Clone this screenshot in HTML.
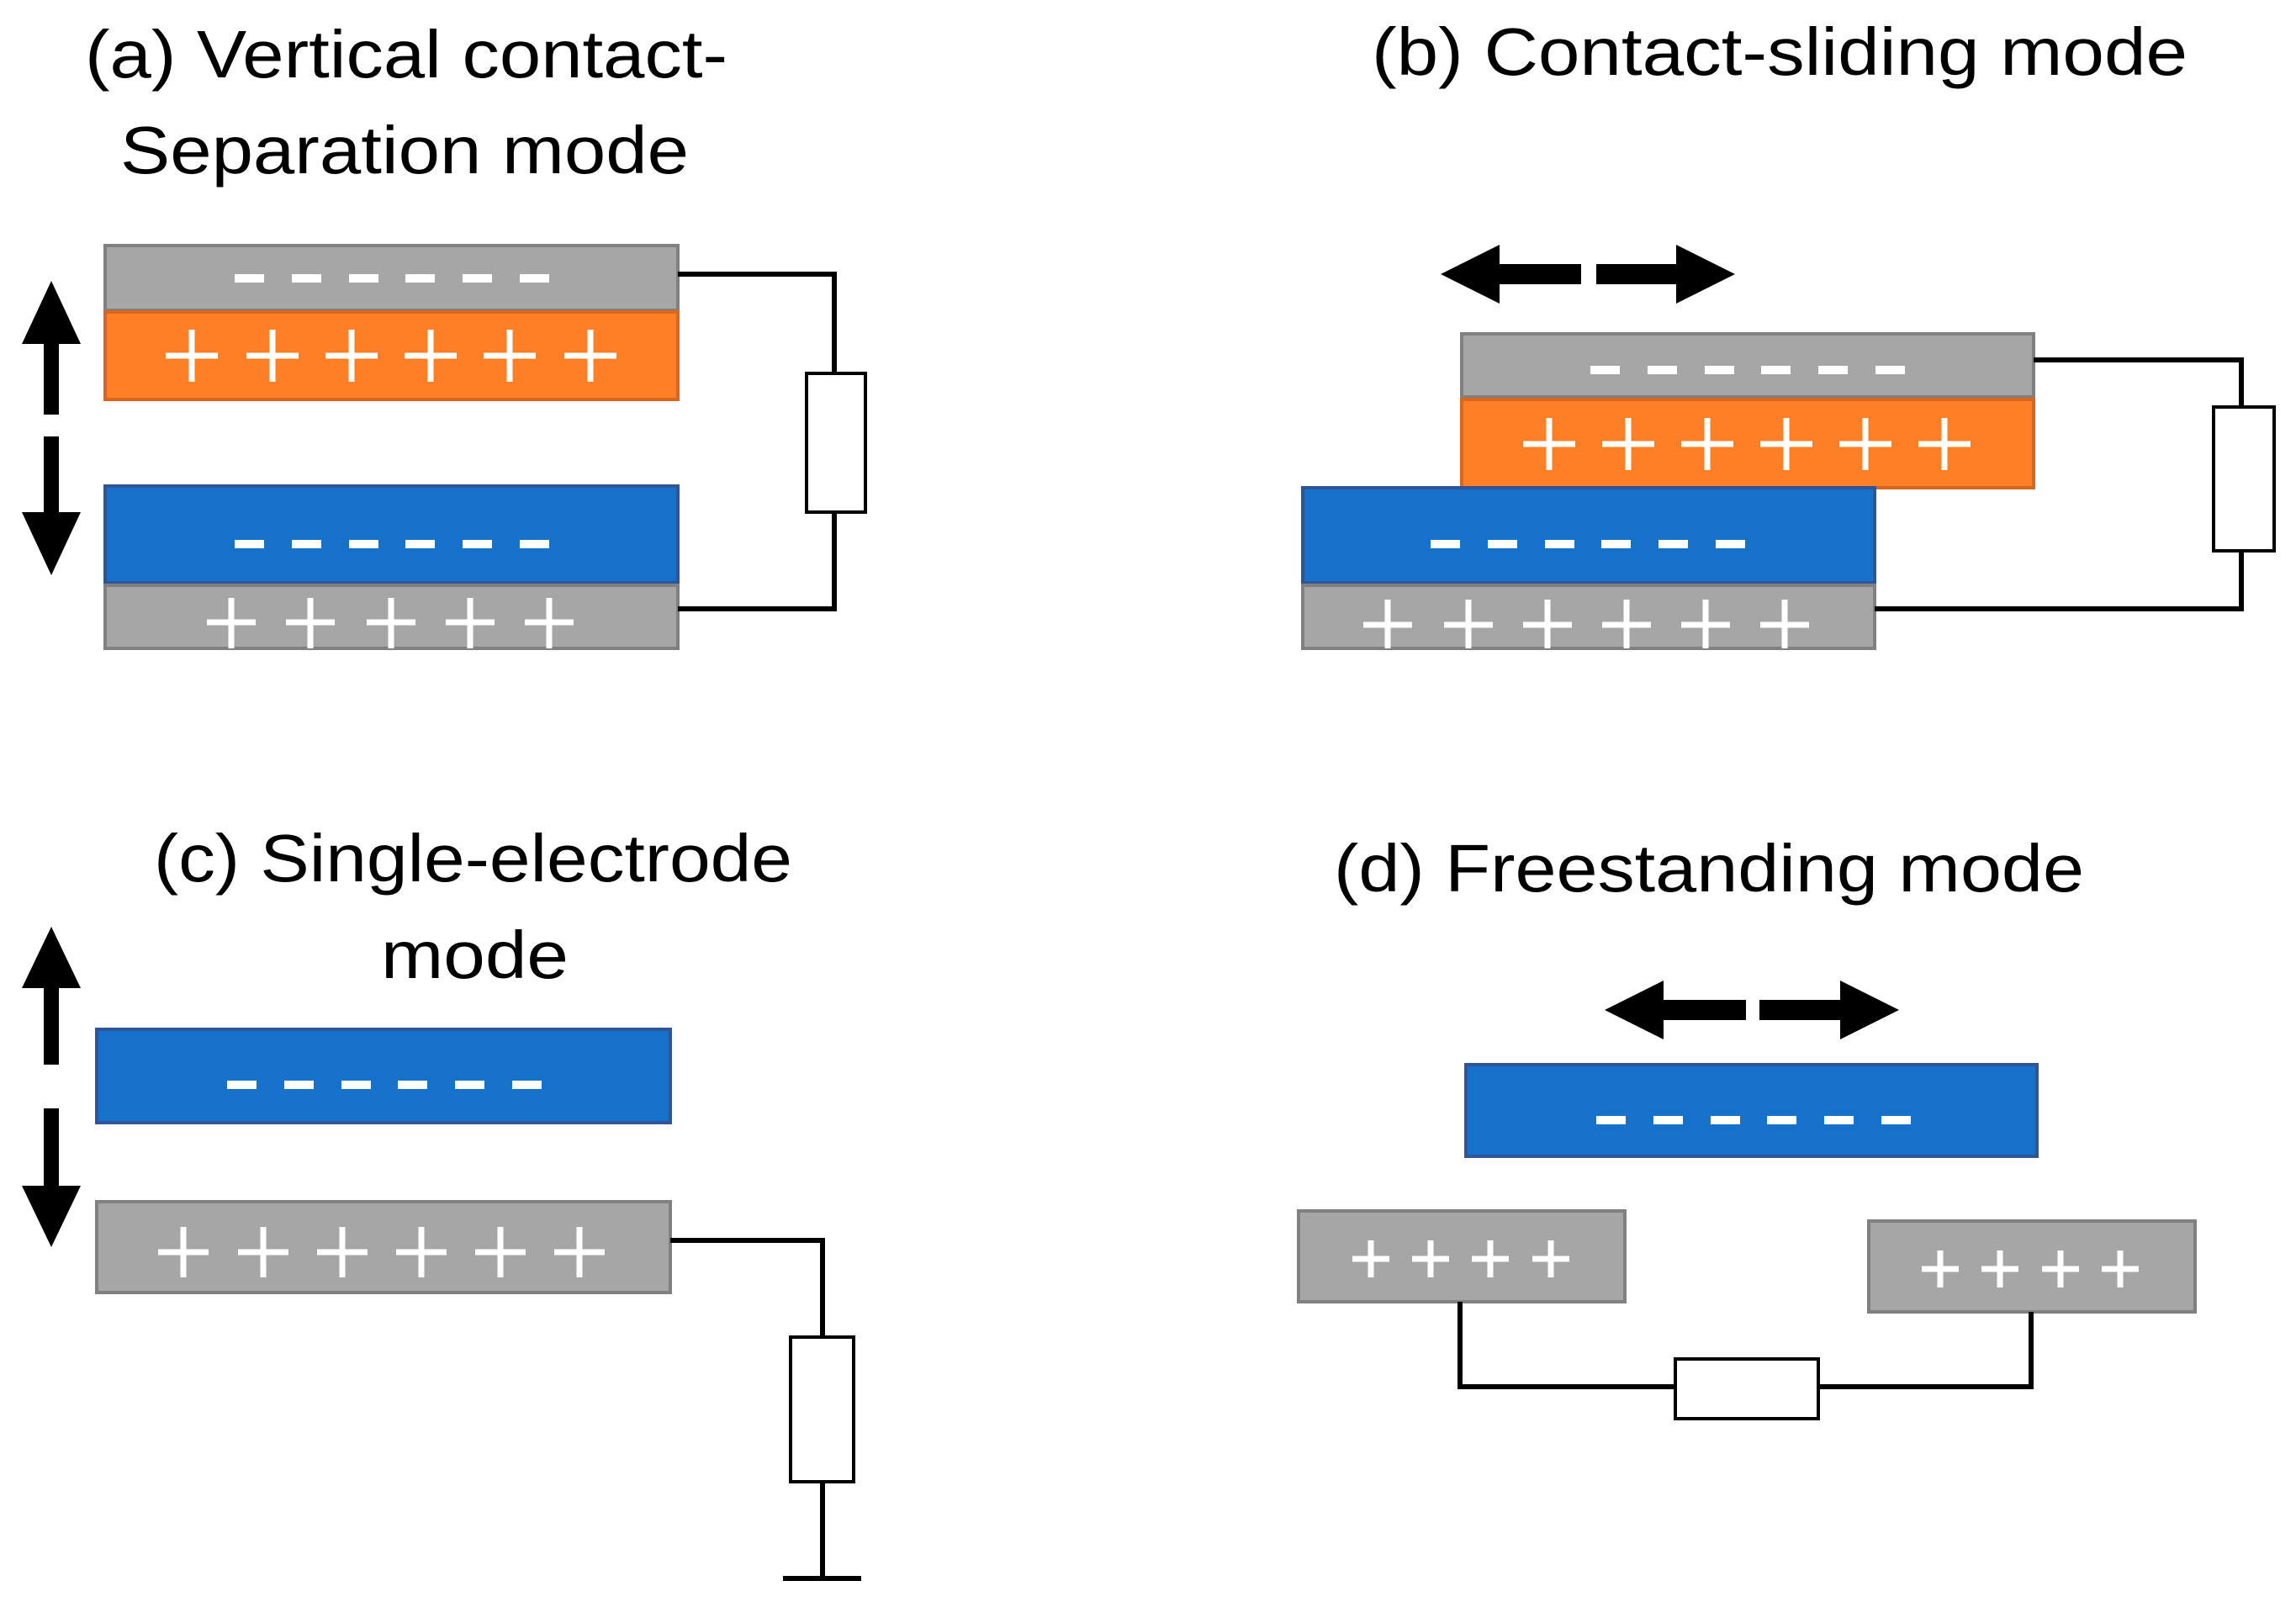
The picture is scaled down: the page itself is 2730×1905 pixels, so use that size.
<!DOCTYPE html>
<html><head><meta charset="utf-8"><style>
html,body{margin:0;padding:0;background:#fff;}
svg{display:block;}
text{font-family:"Liberation Sans","DejaVu Sans",sans-serif;fill:#000;}
</style></head><body>
<svg width="2730" height="1905" viewBox="0 0 2730 1905" xmlns="http://www.w3.org/2000/svg">
<g font-size="80">
<text x="101" y="92" textLength="764" lengthAdjust="spacingAndGlyphs">(a) Vertical contact-</text>
<text x="143" y="206" textLength="676" lengthAdjust="spacingAndGlyphs">Separation mode</text>
<text x="1631" y="89" textLength="970" lengthAdjust="spacingAndGlyphs">(b) Contact-sliding mode</text>
<text x="183" y="1048" textLength="759" lengthAdjust="spacingAndGlyphs">(c) Single-electrode</text>
<text x="453" y="1163" textLength="223" lengthAdjust="spacingAndGlyphs">mode</text>
<text x="1586" y="1060" textLength="892" lengthAdjust="spacingAndGlyphs">(d) Freestanding mode</text>
</g>
<g stroke-width="4">
<!-- a -->
<rect x="125" y="292" width="681" height="77" fill="#a6a6a6" stroke="#808080"/>
<rect x="125" y="371" width="681" height="104" fill="#ff7f27" stroke="#d9661f"/>
<rect x="125" y="578" width="681" height="115" fill="#1571c9" stroke="#2f5597"/>
<rect x="125" y="696" width="681" height="75" fill="#a6a6a6" stroke="#808080"/>
<!-- b -->
<rect x="1738" y="397" width="680" height="75" fill="#a6a6a6" stroke="#808080"/>
<rect x="1738" y="475" width="680" height="105" fill="#ff7f27" stroke="#d9661f"/>
<rect x="1549" y="580" width="680" height="113" fill="#1571c9" stroke="#2f5597"/>
<rect x="1549" y="696" width="680" height="75" fill="#a6a6a6" stroke="#808080"/>
<!-- c -->
<rect x="115" y="1224" width="682" height="111" fill="#1571c9" stroke="#2f5597"/>
<rect x="115" y="1429" width="682" height="108" fill="#a6a6a6" stroke="#808080"/>
<!-- d -->
<rect x="1743" y="1266" width="679" height="109" fill="#1571c9" stroke="#2f5597"/>
<rect x="1544" y="1440" width="388" height="108" fill="#a6a6a6" stroke="#808080"/>
<rect x="2222" y="1452" width="388" height="108" fill="#a6a6a6" stroke="#808080"/>
</g>
<!-- wires -->
<g fill="none" stroke="#000" stroke-width="6">
<path d="M806 326 H992 V444 M992 609 V724 H806"/>
<path d="M2418 428 H2665 V484 M2665 655 V724 H2229"/>
<path d="M797 1475 H978 V1590 M978 1762 V1877 M931 1877 H1024"/>
<path d="M1736 1548 V1649 H1992 M2162 1649 H2415 V1560"/>
</g>
<g fill="#fff" stroke="#000" stroke-width="4">
<rect x="959" y="444" width="70" height="165"/>
<rect x="2632" y="484" width="72" height="171"/>
<rect x="940" y="1590" width="75" height="172"/>
<rect x="1992" y="1616" width="170" height="71"/>
</g>
<!-- arrows -->
<g fill="#000">
<polygon points="61,334 96,409 70,409 70,493 52,493 52,409 26,409"/>
<polygon points="61,684 96,609 70,609 70,519 52,519 52,609 26,609"/>
<polygon points="61,1102 96,1175 70,1175 70,1266 52,1266 52,1175 26,1175"/>
<polygon points="61,1483 96,1410 70,1410 70,1318 52,1318 52,1410 26,1410"/>
<polygon points="1713,326 1783,291 1783,314 1880,314 1880,338 1783,338 1783,361"/>
<polygon points="2063,326 1993,291 1993,314 1898,314 1898,338 1993,338 1993,361"/>
<polygon points="1908,1201 1978,1166 1978,1189 2076,1189 2076,1213 1978,1213 1978,1236"/>
<polygon points="2258,1201 2188,1166 2188,1189 2092,1189 2092,1213 2188,1213 2188,1236"/>
</g>
<!-- minus signs -->
<g fill="#fff">
<g id="m1"><rect x="0" y="-5" width="35" height="10"/><rect x="68" y="-5" width="35" height="10"/><rect x="136" y="-5" width="35" height="10"/><rect x="203" y="-5" width="35" height="10"/><rect x="271" y="-5" width="35" height="10"/><rect x="339" y="-5" width="35" height="10"/></g>
</g>
<g fill="#fff">
<use href="#m1" x="279" y="331"/>
<use href="#m1" x="279" y="647"/>
<use href="#m1" x="1891" y="440"/>
<use href="#m1" x="1701" y="647"/>
<use href="#m1" x="270" y="1290"/>
<use href="#m1" x="1898" y="1332"/>
</g>
<!-- plus signs -->
<g fill="none" stroke="#fff" stroke-width="7">
<path d="M197 423h62M228 392v62 M293 423h62M324 392v62 M387 423h62M418 392v62 M481 423h62M512 392v62 M575 423h62M606 392v62 M671 423h62M702 392v62"/>
<path d="M246 740h58M275 711v60 M340 740h58M369 711v60 M436 740h58M465 711v60 M530 740h58M559 711v60 M624 740h58M653 711v60"/>
<path d="M1811 528h62M1842 497v62 M1905 528h62M1936 497v62 M1999 528h62M2030 497v62 M2093 528h62M2124 497v62 M2187 528h62M2218 497v62 M2281 528h62M2312 497v62"/>
<path d="M1621 743h58M1650 713v58 M1717 743h58M1746 713v58 M1811 743h58M1840 713v58 M1905 743h58M1934 713v58 M1999 743h58M2028 713v58 M2093 743h58M2122 713v58"/>
<path d="M188 1489h60M218 1459v60 M283 1489h60M313 1459v60 M377 1489h60M407 1459v60 M471 1489h60M501 1459v60 M565 1489h60M595 1459v60 M659 1489h60M689 1459v60"/>
<path d="M1608 1497h44M1630 1475v44 M1679 1497h44M1701 1475v44 M1750 1497h44M1772 1475v44 M1822 1497h44M1844 1475v44"/>
<path d="M2285 1509h44M2307 1487v44 M2356 1509h44M2378 1487v44 M2428 1509h44M2450 1487v44 M2499 1509h44M2521 1487v44"/>
</g>
</svg>
</body></html>
